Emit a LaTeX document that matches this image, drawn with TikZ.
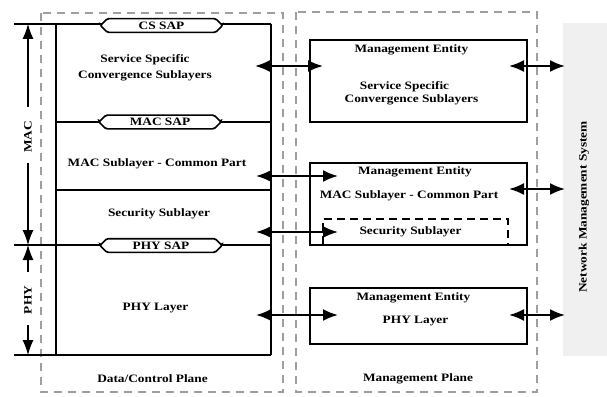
\documentclass[tikz,border=0pt]{standalone}
\usepackage{fontspec}
\setmainfont{Liberation Serif}[FakeStretch=1.18]
\usetikzlibrary{arrows.meta,shapes.misc}

\begin{document}
\begin{tikzpicture}[x=1pt,y=-1pt,
  lbl/.style={font=\fontsize{11.3}{12}\selectfont\bfseries, inner sep=0pt},
  plane/.style={draw=black!38, line width=1.4pt, dash pattern=on 8pt off 6pt},
  thickline/.style={line width=2.3pt},
  thinline/.style={line width=1.2pt},
  sap/.style={chamfered rectangle, chamfered rectangle xsep=5pt, draw,
    line width=1.7pt, fill=white, minimum width=122pt, minimum height=13pt,
    inner sep=0pt, rounded corners=1.5pt, font=\fontsize{11.3}{12}\selectfont\bfseries},
  mgmt/.style={draw, line width=2.1pt, anchor=north west, inner sep=0pt},
  tip/.tip={Latex[length=15pt,width=12pt]},
  conn/.style={line width=2pt, tip-tip},
  dim/.style={line width=1.1pt, -{Latex[length=15pt,width=11pt]}},
]
\useasboundingbox (0,0) rectangle (607,396);

% planes
\draw[plane] (41,13) rectangle (283,392);
\draw[plane] (296,12) rectangle (537,392);

% network management system
\node[fill=black!6, anchor=north west, minimum width=44pt, minimum height=333pt, inner sep=0pt] (nms) at (563,23) {};
\node[lbl, rotate=90] (nmstext) at (584,207) {Network Management System};

% protocol stack
\coordinate (stl) at (56,24);
\coordinate (str) at (271,24);
\coordinate (sbl) at (56,355);
\coordinate (sbr) at (271,355);
\draw[thinline] (14,24) -- (str);
\draw[thinline] (56,122) -- (271,122);
\draw[thickline] (56,190) -- (271,190);
\draw[thinline] (14,245) -- (271,245);
\draw[line width=1.5pt] (14,355) -- (sbr);
\draw[thickline] (stl) -- (sbl);
\draw[thickline] (str) -- (sbr);

\node[sap] (cssap) at (161.5,25.5) {CS SAP};
\node[sap] (macsap) at (160,122) {MAC SAP};
\node[sap] (physap) at (161,245.5) {PHY SAP};

\node[lbl] (ssc1) at (145,60) {Service Specific};
\node[lbl] (ssc2) at (145,76) {Convergence Sublayers};
\node[lbl] (maccps) at (157,164) {MAC Sublayer - Common Part};
\node[lbl] (secs) at (159,214) {Security Sublayer};
\node[lbl] (phys) at (155.5,308) {PHY Layer};
\node[lbl] (dcp) at (152.5,379) {Data/Control Plane};

% extent of MAC and PHY
\coordinate (mactop) at (28,24);
\coordinate (macbot) at (28,245);
\coordinate (phytop) at (28,245);
\coordinate (phybot) at (28,355);
\node[lbl, rotate=90] (maclbl) at (28,137) {MAC};
\node[lbl, rotate=90] (phylbl) at (28,300) {PHY};
\draw[dim] (28,107) -- (mactop);
\draw[dim] (28,163) -- (macbot);
\draw[dim] (28,272) -- (phytop);
\draw[dim] (28,325) -- (phybot);

% management entities
\node[mgmt, minimum width=217pt, minimum height=82pt] (mg1) at (309,39) {};
\node[mgmt, minimum width=217pt, minimum height=82pt] (mg2) at (309,162) {};
\node[mgmt, minimum width=217pt, minimum height=56pt] (mg3) at (309,287) {};
\draw[line width=2pt, dash pattern=on 8pt off 5pt] (323,244) -- (323,219) -- (508,219) -- (508,244);

\node[lbl] (me1) at (411.5,50) {Management Entity};
\node[lbl] (me1a) at (404.5,87) {Service Specific};
\node[lbl] (me1b) at (411.5,100) {Convergence Sublayers};
\node[lbl] (me2) at (415,172) {Management Entity};
\node[lbl] (me2a) at (409,196) {MAC Sublayer - Common Part};
\node[lbl] (me2b) at (410.5,232) {Security Sublayer};
\node[lbl] (me3) at (413.5,298) {Management Entity};
\node[lbl] (me3a) at (415.5,321) {PHY Layer};
\node[lbl] (mp) at (418,379) {Management Plane};

% interfaces between planes
\coordinate (a1) at (255,66);  \coordinate (b1) at (323,66);
\coordinate (a2) at (256,176); \coordinate (b2) at (338,176);
\coordinate (a3) at (256,232); \coordinate (b3) at (338,232);
\coordinate (a4) at (256,315); \coordinate (b4) at (338,315);
\draw[conn] (a1) -- (b1);
\draw[conn] (a2) -- (b2);
\draw[conn] (a3) -- (b3);
\draw[conn] (a4) -- (b4);

% interfaces to the network management system
\coordinate (c1) at (509,66);  \coordinate (d1) at (565,66);
\coordinate (c2) at (509,189); \coordinate (d2) at (565,189);
\coordinate (c3) at (509,315); \coordinate (d3) at (565,315);
\draw[conn] (c1) -- (d1);
\draw[conn] (c2) -- (d2);
\draw[conn] (c3) -- (d3);
\end{tikzpicture}
\end{document}
